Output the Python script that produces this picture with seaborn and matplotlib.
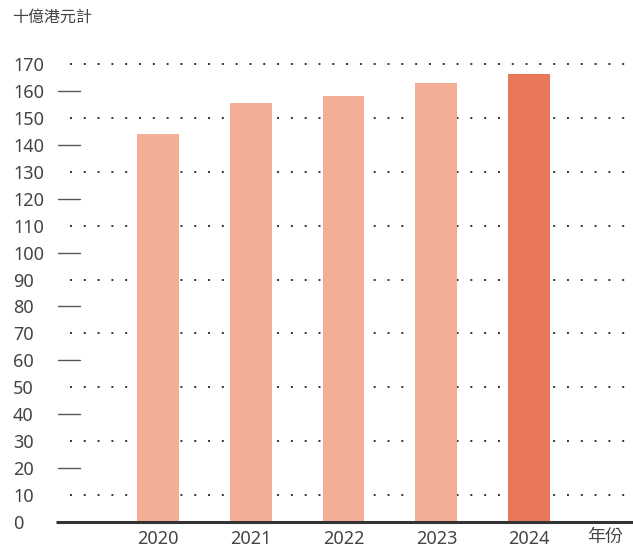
import matplotlib
matplotlib.use("Agg")
import matplotlib.pyplot as plt
import seaborn as sns
import pandas as pd

# data
years = ["2020", "2021", "2022", "2023", "2024"]
values = [144.0, 155.5, 158.0, 163.0, 166.3]
bar_colors = ["#F4AE96", "#F4AE96", "#F4AE96", "#F4AE96", "#E8775C"]
y_ticks = list(range(0, 171, 10))
unit_label = "十億港元計"
x_axis_label = "年份"

sns.set_theme(style="white")
plt.rcParams["font.family"] = ["Noto Sans", "Noto Sans CJK TC", "DejaVu Sans"]

text_color = "#444444"
W, H = 633, 547
fig = plt.figure(figsize=(W / 100, H / 100), dpi=100)
ax = fig.add_axes([56 / W, (H - 522) / H, (W - 56) / W, (522 - 64) / H])

df = pd.DataFrame({"year": years, "value": values})
sns.barplot(data=df, x="year", y="value", hue="year", palette=bar_colors,
            width=0.45, legend=False, saturation=1, linewidth=0,
            ax=ax, zorder=3)

ax.set_ylim(0, 170)
ax.set_xlim(-1.1, 5.12)
ax.set_xlabel("")
ax.set_ylabel("")
for s in ax.spines.values():
    s.set_visible(False)

# dotted grid lines at odd tens, short dashes next to labels at even tens
ytr = ax.get_yaxis_transform()
for v in y_ticks[1:]:
    if (v // 10) % 2 == 1:
        ax.plot([14 / 577, 1], [v, v], transform=ytr, color="#333333", lw=1.4,
                linestyle=(0, (1, 6.1)), zorder=1, clip_on=False)
    else:
        ax.plot([2 / 577, 24 / 577], [v, v], transform=ytr, color="#555555",
                lw=1, zorder=1, clip_on=False)

# baseline
ax.plot([0, 1], [0, 0], transform=ytr, color="#333333", lw=2.2, zorder=4,
        clip_on=False, solid_capstyle="butt")

ax.set_yticks(y_ticks)
ax.set_yticklabels([str(v) for v in y_ticks])
ax.tick_params(axis="y", length=0, pad=31, labelsize=13, labelcolor=text_color)
for lab in ax.get_yticklabels():
    lab.set_horizontalalignment("left")
ax.tick_params(axis="x", length=0, pad=6, labelsize=13, labelcolor=text_color)

fig.text(605 / W, 1 - 537 / H, x_axis_label, ha="center", va="center",
         fontsize=13, color=text_color)
fig.text(12 / W, 1 - 18 / H, unit_label, ha="left", va="center",
         fontsize=11.5, color=text_color)

fig.savefig("out.png", dpi=100)
